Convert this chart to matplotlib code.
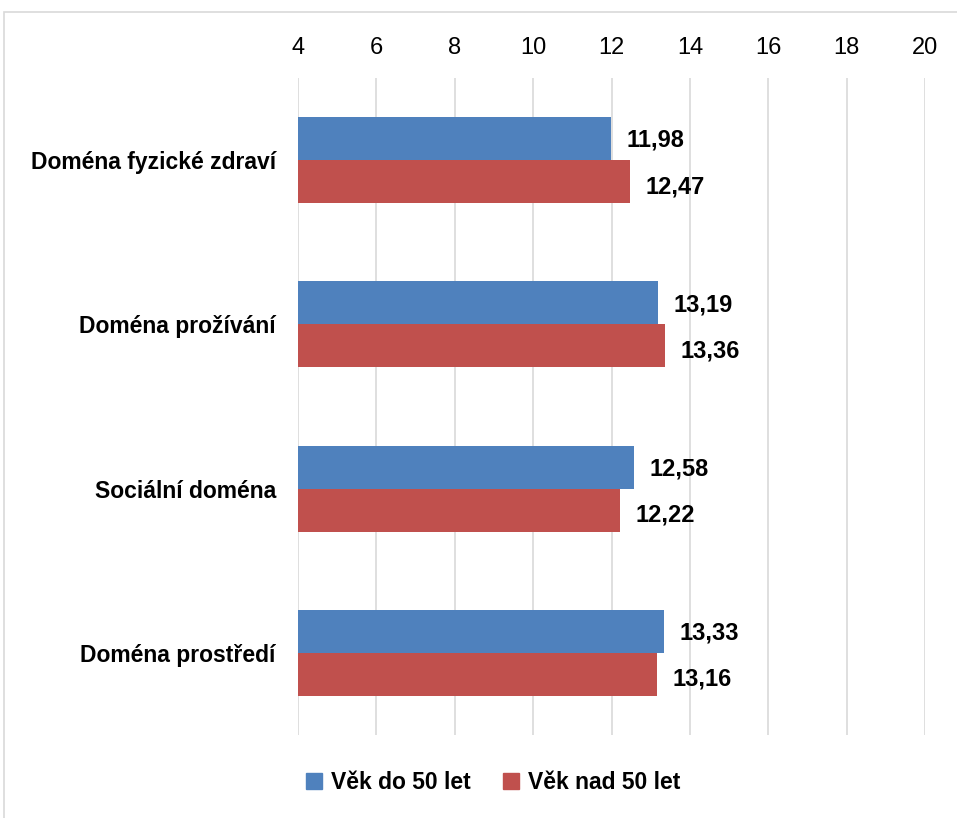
import numpy as np
import matplotlib.pyplot as plt
from matplotlib.patches import Rectangle, Patch

# data
categories = ['Doména fyzické zdraví', 'Doména prožívání', 'Sociální doména', 'Doména prostředí']
under_50 = [11.98, 13.19, 12.58, 13.33]
over_50 = [12.47, 13.36, 12.22, 13.16]
series_names = ['Věk do 50 let', 'Věk nad 50 let']
xticks = [4, 6, 8, 10, 12, 14, 16, 18, 20]

blue = '#4F81BD'
red = '#C0504D'
fam = ['Liberation Sans', 'DejaVu Sans']
plt.rcParams['font.family'] = fam

fig = plt.figure(figsize=(9.57, 8.18), dpi=100)
ax = fig.add_axes([0.3114, 0.1015, 0.6552, 0.8031])

# outer frame
fig.patches.append(Rectangle((0.004, -0.01), 1.1, 0.9955, transform=fig.transFigure,
                             fill=False, edgecolor='#D9D9D9', linewidth=1.2))

y = np.arange(len(categories))
h = 0.262
ax.barh(y - h / 2, [v - 4 for v in under_50], left=4, height=h, color=blue, zorder=3)
ax.barh(y + h / 2, [v - 4 for v in over_50], left=4, height=h, color=red, zorder=3)

for i in range(len(categories)):
    ax.text(under_50[i] + 0.4, y[i] - h / 2 + 0.01, ('%.2f' % under_50[i]).replace('.', ','),
            ha='left', va='center', fontsize=17, fontweight='bold')
    ax.text(over_50[i] + 0.4, y[i] + h / 2 + 0.03, ('%.2f' % over_50[i]).replace('.', ','),
            ha='left', va='center', fontsize=17, fontweight='bold')

ax.set_xlim(4, 20)
ax.set_ylim(len(categories) - 0.5, -0.5)
ax.set_xticks(xticks)
ax.xaxis.tick_top()
ax.tick_params(axis='x', length=0, pad=14, labelsize=17)
ax.set_yticks(y)
ax.set_yticklabels(categories, fontsize=16.5, fontweight='bold')
ax.tick_params(axis='y', length=0, pad=16)
ax.grid(axis='x', color='#D9D9D9', linewidth=1.2, zorder=0)
for s in ax.spines.values():
    s.set_visible(False)

handles = [Patch(color=blue), Patch(color=red)]
fig.legend(handles, series_names, loc='center', bbox_to_anchor=(0.515, 0.043), ncol=2,
           frameon=False, handlelength=0.7, handleheight=0.7, columnspacing=1.4, handletextpad=0.4,
           prop={'weight': 'bold', 'size': 16.5})

fig.savefig('out.png', dpi=100)
